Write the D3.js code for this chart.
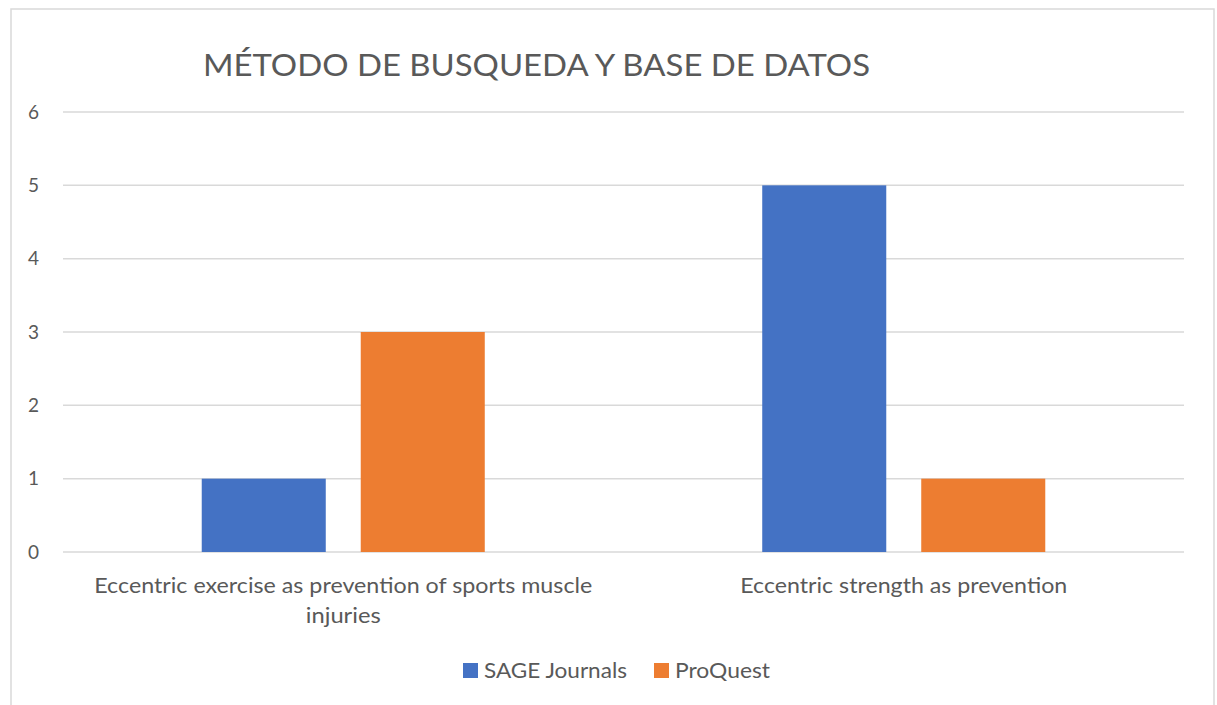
<!DOCTYPE html>
<html>
<head>
<meta charset="utf-8">
<script src="https://cdn.jsdelivr.net/npm/d3@7"></script>
<style>
  body { margin: 0; background: #fff; overflow: hidden; }
  svg { display: block; }
  text { font-family: Lato, "Open Sans", sans-serif; fill: #595959; }
</style>
</head>
<body>
<script>
const categories = ["Eccentric exercise as prevention of sports muscle injuries",
                    "Eccentric strength as prevention"];
const seriesNames = ["SAGE Journals", "ProQuest"];
const sageValues = [1, 5];
const proquestValues = [3, 1];
const yTicks = [0, 1, 2, 3, 4, 5, 6];
const colors = ["#4472C4", "#ED7D31"];

const width = 1217, height = 705;
const plotLeft = 63, plotRight = 1184, plotTop = 112, plotBottom = 552;

const svg = d3.select("body")
              .append("svg")
              .attr("width", width)
              .attr("height", height);

// chart frame
svg.append("rect")
   .attr("x", 11).attr("y", 9)
   .attr("width", 1203).attr("height", 720)
   .attr("fill", "#fff")
   .attr("stroke", "#d9d9d9")
   .attr("stroke-width", 1.5);

svg.append("text")
   .attr("x", 203)
   .attr("y", 76)
   .attr("font-size", "31px")
   .attr("textLength", 667)
   .attr("lengthAdjust", "spacingAndGlyphs")
   .text("MÉTODO DE BUSQUEDA Y BASE DE DATOS");

const yscale = d3.scaleLinear().domain([0, 6]).range([plotBottom, plotTop]);
const xscale = d3.scaleBand().domain(categories).range([plotLeft, plotRight]).padding(0);
const inner = d3.scaleBand().domain(seriesNames).range([0, xscale.bandwidth()])
                .paddingInner(0.22).paddingOuter(0.8725);

// gridlines
svg.append("g")
   .selectAll("line")
   .data(yTicks)
   .enter()
   .append("line")
   .attr("x1", plotLeft).attr("x2", plotRight)
   .attr("y1", d => yscale(d)).attr("y2", d => yscale(d))
   .attr("stroke", "#d9d9d9")
   .attr("stroke-width", 1.5);

// y labels
svg.append("g")
   .selectAll("text")
   .data(yTicks)
   .enter()
   .append("text")
   .attr("x", 39)
   .attr("y", d => yscale(d))
   .attr("dy", "0.35em")
   .attr("text-anchor", "end")
   .attr("font-size", "19px")
   .text(d => d);

const rows = categories.map((c, i) => ({cat: c, vals: [sageValues[i], proquestValues[i]]}));

const groups = svg.append("g")
   .selectAll("g")
   .data(rows)
   .enter()
   .append("g")
   .attr("transform", d => `translate(${xscale(d.cat)},0)`);

groups.selectAll("rect")
   .data(d => d.vals.map((v, j) => ({name: seriesNames[j], value: v, j: j})))
   .enter()
   .append("rect")
   .attr("x", d => inner(d.name))
   .attr("y", d => yscale(d.value))
   .attr("width", inner.bandwidth())
   .attr("height", d => plotBottom - yscale(d.value))
   .attr("fill", d => colors[d.j]);

// x labels, wrapped like the original (widths)
const wrapped = [["Eccentric exercise as prevention of sports muscle", "injuries"],
                 ["Eccentric strength as prevention"]];
const wrappedLen = [[498, 75], [327]];
svg.append("g")
   .selectAll("text")
   .data(categories)
   .enter()
   .append("text")
   .attr("font-size", "21px")
   .each(function(d, i) {
       const cx = xscale(d) + xscale.bandwidth() / 2;
       wrapped[i].forEach((line, k) => {
           d3.select(this).append("tspan")
             .attr("x", cx - wrappedLen[i][k] / 2)
             .attr("y", 593 + k * 30)
             .attr("textLength", wrappedLen[i][k])
             .attr("lengthAdjust", "spacingAndGlyphs")
             .text(line);
       });
   });

// legend
const legendX = [463, 654];
const legendLen = [143, 95];
const legend = svg.append("g")
   .selectAll("g")
   .data(seriesNames)
   .enter()
   .append("g")
   .attr("transform", (d, i) => `translate(${legendX[i]},663)`);

legend.append("rect")
      .attr("width", 15).attr("height", 15)
      .attr("fill", (d, i) => colors[i]);

legend.append("text")
      .attr("x", 21)
      .attr("y", 8)
      .attr("dy", "0.35em")
      .attr("font-size", "21px")
      .attr("textLength", (d, i) => legendLen[i])
      .attr("lengthAdjust", "spacingAndGlyphs")
      .text(d => d);
</script>
</body>
</html>
